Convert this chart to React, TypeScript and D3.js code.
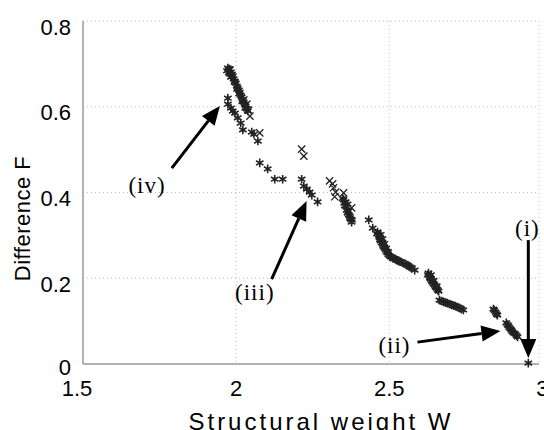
import React, { useEffect, useRef } from 'react';
import * as d3 from 'd3';

// asterisk markers: [structural weight W, difference F]
const starPoints: [number, number][] = [
  [1.973, 0.690], [1.976, 0.686], [1.979, 0.688], [1.976, 0.679], [1.983, 0.681],
  [1.986, 0.676], [1.983, 0.669], [1.989, 0.672], [1.992, 0.665], [1.996, 0.660],
  [1.999, 0.655], [2.002, 0.648], [2.005, 0.644], [2.009, 0.639], [2.012, 0.634],
  [2.015, 0.627], [2.018, 0.623], [2.022, 0.616], [2.025, 0.611], [2.028, 0.606],
  [2.031, 0.602], [2.035, 0.595], [2.038, 0.590],
  [1.970, 0.684], [1.980, 0.676], [1.986, 0.670], [1.995, 0.657], [2.003, 0.641],
  [2.010, 0.630], [2.020, 0.612], [2.030, 0.597],
  [1.973, 0.620], [1.973, 0.606], [1.983, 0.597], [1.989, 0.590], [1.996, 0.585],
  [2.005, 0.574], [2.015, 0.562], [2.022, 0.546], [2.051, 0.541], [2.058, 0.536],
  [2.071, 0.520], [2.077, 0.469], [2.103, 0.455], [2.126, 0.431], [2.152, 0.431],
  [2.214, 0.431], [2.221, 0.415], [2.231, 0.408], [2.240, 0.401], [2.247, 0.394],
  [2.266, 0.378],
  [2.351, 0.383], [2.358, 0.378], [2.364, 0.373], [2.355, 0.369], [2.361, 0.359],
  [2.364, 0.352], [2.371, 0.345], [2.374, 0.338], [2.377, 0.331],
  [2.348, 0.386], [2.353, 0.375], [2.360, 0.366], [2.366, 0.356], [2.368, 0.348],
  [2.372, 0.341], [2.378, 0.336],
  [2.433, 0.336], [2.446, 0.317], [2.462, 0.308], [2.465, 0.301], [2.469, 0.294],
  [2.472, 0.287], [2.478, 0.280], [2.482, 0.273], [2.488, 0.266], [2.494, 0.259],
  [2.501, 0.252], [2.511, 0.247], [2.521, 0.245], [2.530, 0.240], [2.540, 0.238],
  [2.553, 0.233], [2.563, 0.229], [2.573, 0.224], [2.583, 0.219],
  [2.460, 0.304], [2.467, 0.297], [2.470, 0.290], [2.475, 0.283], [2.480, 0.276],
  [2.485, 0.270], [2.491, 0.262], [2.497, 0.255], [2.505, 0.250], [2.516, 0.246],
  [2.525, 0.242], [2.535, 0.239], [2.472, 0.302], [2.478, 0.292], [2.484, 0.281],
  [2.490, 0.270], [2.496, 0.262], [2.546, 0.235], [2.558, 0.231], [2.568, 0.226],
  [2.628, 0.212], [2.631, 0.205], [2.635, 0.198], [2.641, 0.191], [2.648, 0.184],
  [2.654, 0.177], [2.661, 0.170],
  [2.626, 0.208], [2.633, 0.201], [2.638, 0.194], [2.644, 0.187], [2.651, 0.180],
  [2.658, 0.173], [2.636, 0.208], [2.645, 0.195], [2.655, 0.182],
  [2.664, 0.149], [2.677, 0.145], [2.690, 0.142], [2.703, 0.138], [2.716, 0.135],
  [2.729, 0.131], [2.742, 0.126],
  [2.670, 0.147], [2.684, 0.143], [2.697, 0.140], [2.710, 0.136], [2.722, 0.133],
  [2.736, 0.128],
  [2.840, 0.128], [2.847, 0.121], [2.853, 0.114], [2.843, 0.125], [2.850, 0.117],
  [2.882, 0.096], [2.889, 0.089], [2.896, 0.082], [2.902, 0.075], [2.912, 0.070],
  [2.919, 0.063],
  [2.886, 0.092], [2.892, 0.085], [2.899, 0.079], [2.907, 0.072], [2.916, 0.066],
  [2.954, 0.002],
];

// cross markers
const crossPoints: [number, number][] = [
  [1.979, 0.686], [2.025, 0.616], [2.035, 0.606], [2.041, 0.592], [2.045, 0.578],
  [2.077, 0.539], [2.214, 0.501], [2.221, 0.485],
  [2.305, 0.427], [2.315, 0.420], [2.318, 0.411], [2.325, 0.401], [2.322, 0.390],
  [2.351, 0.399], [2.377, 0.364],
];

const xTicks = [1.5, 2, 2.5, 3];
const yTicks = [0, 0.2, 0.4, 0.6, 0.8];
const gridX = [2, 2.5];
const gridY = [0.2, 0.4, 0.6, 0.8];

// annotations (data coordinates)
const noteText = ['(i)', '(ii)', '(iii)', '(iv)'];
const noteAt: [number, number][] = [[2.951, 0.317], [2.517, 0.044], [2.061, 0.166], [1.709, 0.417]];
const arrowFrom: [number, number][] = [[2.954, 0.289], [2.592, 0.051], [2.116, 0.198], [1.790, 0.457]];
const arrowTo: [number, number][] = [[2.954, 0.014], [2.863, 0.077], [2.230, 0.380], [1.947, 0.602]];

const W = 544;
const H = 430;

export default function App() {
  const svgRef = useRef<SVGSVGElement>(null);

  useEffect(() => {
    const svg = d3.select(svgRef.current);
    svg.selectAll('*').remove();

    const left = 83;
    const right = 539;
    const top = 21;
    const bottom = 364;

    const x = d3.scaleLinear().domain([1.5, 3]).range([left, 542.4]);
    const y = d3.scaleLinear().domain([0, 0.8]).range([bottom, top]);

    const sans = 'Liberation Sans, Arial, sans-serif';

    // grid
    svg.selectAll('.gy')
      .data(gridY)
      .join('line')
      .attr('x1', left).attr('x2', right)
      .attr('y1', d => y(d)).attr('y2', d => y(d))
      .attr('stroke', '#bbb').attr('stroke-width', 1)
      .attr('stroke-dasharray', '1,3');

    svg.selectAll('.gx')
      .data(gridX)
      .join('line')
      .attr('x1', d => x(d)).attr('x2', d => x(d))
      .attr('y1', top).attr('y2', bottom)
      .attr('stroke', '#bbb').attr('stroke-width', 1)
      .attr('stroke-dasharray', '1,3');

    svg.append('line')
      .attr('x1', right).attr('x2', right)
      .attr('y1', top).attr('y2', bottom)
      .attr('stroke', '#bbb').attr('stroke-dasharray', '1,3');

    // axes lines
    svg.append('line')
      .attr('x1', left).attr('x2', left).attr('y1', top).attr('y2', bottom)
      .attr('stroke', '#999').attr('stroke-width', 1.5);
    svg.append('line')
      .attr('x1', left).attr('x2', right).attr('y1', bottom).attr('y2', bottom)
      .attr('stroke', '#999').attr('stroke-width', 1.5);

    // tick labels
    svg.selectAll('.yt')
      .data(yTicks)
      .join('text')
      .attr('x', 71)
      .attr('y', d => y(d) + (d === 0 ? 3 : 6))
      .attr('text-anchor', 'end')
      .attr('dominant-baseline', 'central')
      .style('font-family', sans)
      .style('font-size', '22px')
      .text(d => d3.format('')(d));

    svg.selectAll('.xt')
      .data(xTicks)
      .join('text')
      .attr('x', d => (d === 1.5 ? x(d) - 6 : x(d)))
      .attr('y', 388)
      .attr('text-anchor', 'middle')
      .attr('dominant-baseline', 'central')
      .style('font-family', sans)
      .style('font-size', '22px')
      .text(d => d3.format('')(d));

    // axis titles
    svg.append('text')
      .attr('transform', `translate(22,${(top + bottom) / 2 + 26}) rotate(-90)`)
      .attr('text-anchor', 'middle')
      .attr('dominant-baseline', 'central')
      .style('font-family', sans)
      .style('font-size', '22px')
      .style('letter-spacing', '0.5px')
      .text('Difference F');

    svg.append('text')
      .attr('x', 321)
      .attr('y', 430)
      .attr('text-anchor', 'middle')
      .style('font-family', sans)
      .style('font-size', '24px')
      .style('letter-spacing', '3px')
      .text('Structural weight W');

    // points
    const star = d3.symbol().type(d3.symbolAsterisk).size(52);
    const cross = d3.symbol().type(d3.symbolTimes).size(36);

    svg.selectAll('.cross')
      .data(crossPoints)
      .join('path')
      .attr('transform', d => `translate(${x(d[0])},${y(d[1])})`)
      .attr('d', cross)
      .attr('fill', 'none')
      .attr('stroke', '#222')
      .attr('stroke-width', 1.3);

    svg.selectAll('.star')
      .data(starPoints)
      .join('path')
      .attr('transform', d => `translate(${x(d[0])},${y(d[1])})`)
      .attr('d', star)
      .attr('fill', 'none')
      .attr('stroke', '#222')
      .attr('stroke-width', 1.6);

    // arrows
    noteText.forEach((t, i) => {
      const x0 = x(arrowFrom[i][0]);
      const y0 = y(arrowFrom[i][1]);
      const x1 = x(arrowTo[i][0]);
      const y1 = y(arrowTo[i][1]);
      const len = Math.hypot(x1 - x0, y1 - y0);
      const ux = (x1 - x0) / len;
      const uy = (y1 - y0) / len;
      const headLen = 19;
      const headHalf = 8;
      const bx = x1 - ux * headLen;
      const by = y1 - uy * headLen;

      svg.append('line')
        .attr('x1', x0).attr('y1', y0)
        .attr('x2', bx).attr('y2', by)
        .attr('stroke', '#000').attr('stroke-width', 3);

      svg.append('path')
        .attr('d', `M${x1},${y1}L${bx - uy * headHalf},${by + ux * headHalf}L${bx + uy * headHalf},${by - ux * headHalf}Z`)
        .attr('fill', '#000');

      svg.append('text')
        .attr('x', x(noteAt[i][0]))
        .attr('y', y(noteAt[i][1]))
        .attr('text-anchor', 'middle')
        .attr('dominant-baseline', 'central')
        .style('font-family', 'Liberation Serif, Times New Roman, serif')
        .style('font-size', '23px')
        .style('letter-spacing', '1px')
        .text(t);
    });
  }, []);

  return (
    <svg
      ref={svgRef}
      width={W}
      height={H}
      style={{ position: 'absolute', left: 0, top: 0, background: '#fff' }}
    />
  );
}
